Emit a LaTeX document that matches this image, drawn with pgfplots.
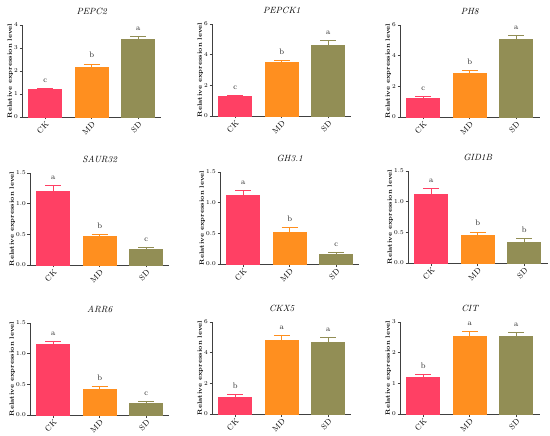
\documentclass[border=0pt]{standalone}
\usepackage{pgfplots}
\usepackage{pgfplotstable}
\pgfplotsset{compat=1.18}
\definecolor{ckc}{HTML}{FF4064}
\definecolor{mdc}{HTML}{FF8F1F}
\definecolor{sdc}{HTML}{928E55}
\definecolor{axc}{HTML}{404040}

\pgfplotstableread{
x y e lab
0 1.20 0.05 c
1 2.18 0.12 b
2 3.38 0.10 a
}\tPEPCtwo
\pgfplotstableread{
x y e lab
0 1.26 0.10 c
1 3.48 0.16 b
2 4.61 0.30 a
}\tPEPCKone
\pgfplotstableread{
x y e lab
0 1.24 0.08 c
1 2.88 0.15 b
2 5.06 0.27 a
}\tPHeight
\pgfplotstableread{
x y e lab
0 1.205 0.09 a
1 0.470 0.02 b
2 0.250 0.03 c
}\tSAUR
\pgfplotstableread{
x y e lab
0 1.12 0.08 a
1 0.525 0.075 b
2 0.166 0.025 c
}\tGH
\pgfplotstableread{
x y e lab
0 1.12 0.09 a
1 0.45 0.055 b
2 0.34 0.065 b
}\tGID
\pgfplotstableread{
x y e lab
0 1.16 0.04 a
1 0.425 0.04 b
2 0.196 0.025 c
}\tARR
\pgfplotstableread{
x y e lab
0 1.11 0.13 b
1 4.80 0.33 a
2 4.67 0.29 a
}\tCKX
\pgfplotstableread{
x y e lab
0 1.20 0.09 b
1 2.52 0.18 a
2 2.54 0.11 a
}\tCIT

\pgfplotsset{
  panelstyle/.style={
    anchor=south west,
    scale only axis, width=139.5pt, height=92pt,
    xmin=-0.5, xmax=2.5, ymin=0,
    axis lines=left, axis line style={-, color=axc, line width=0.6pt},
    tick align=outside, major tick length=2.5pt,
    tick style={color=axc, line width=0.6pt},
    xtick={0,1,2}, xticklabels={CK,MD,SD},
    x tick label style={rotate=45, anchor=north east, inner sep=1pt, font=\fontsize{8}{9}\selectfont},
    y tick label style={font=\fontsize{6.5}{7}\selectfont, inner sep=1.5pt},
    ylabel={Relative expression level},
    ylabel style={font=\bfseries\fontsize{6.3}{7}\selectfont, yshift=-4pt},
    title style={font=\itshape\fontsize{9}{10}\selectfont, yshift=1pt},
    clip=false,
  },
  barst/.style={ybar, bar shift=0pt, bar width=0.71, fill=#1, draw=#1, line width=0.6pt,
    error bars/y dir=plus, error bars/y explicit,
    error bars/error bar style={line width=1pt, color=#1},
    error bars/error mark options={rotate=90, line width=1pt, mark size=8pt, color=#1}},
}

\newcommand{\drawpanel}[7]{%
\begin{axis}[panelstyle, at={(#1pt,-#2pt)}, title={#3}, ymax=#4, ytick={#5}, #7]
\addplot[barst=ckc, restrict x to domain=-0.2:0.2] table[x=x, y=y, y error=e] {#6};
\addplot[barst=mdc, restrict x to domain=0.8:1.2] table[x=x, y=y, y error=e] {#6};
\addplot[barst=sdc, restrict x to domain=1.8:2.2] table[x=x, y=y, y error=e] {#6};
\addplot[draw=none, mark=none, nodes near coords, point meta=explicit symbolic,
  every node near coord/.append style={font=\fontsize{8}{9}\selectfont, anchor=south, yshift=2.5pt, color=black!85}]
  table[x=x, y expr=\thisrow{y}+\thisrow{e}, meta=lab] {#6};
\end{axis}}

\begin{document}
\begin{tikzpicture}
\useasboundingbox (0pt,0pt) rectangle (550pt,-436pt);
\drawpanel{22}{117}{PEPC2}{4}{0,1,2,3,4}{\tPEPCtwo}{}
\drawpanel{212}{116}{PEPCK1}{6}{0,2,4,6}{\tPEPCKone}{}
\drawpanel{400}{117}{PH8}{6}{0,2,4,6}{\tPHeight}{}
\drawpanel{30}{265}{SAUR32}{1.5}{0,0.5,1,1.5}{\tSAUR}{yticklabel style={/pgf/number format/.cd, fixed, fixed zerofill, precision=1}}
\drawpanel{220}{264}{GH3.1}{1.5}{0,0.5,1,1.5}{\tGH}{yticklabel style={/pgf/number format/.cd, fixed, fixed zerofill, precision=1}}
\drawpanel{408}{263}{GID1B}{1.5}{0,0.5,1,1.5}{\tGID}{yticklabel style={/pgf/number format/.cd, fixed, fixed zerofill, precision=1}}
\drawpanel{30}{415}{ARR6}{1.5}{0,0.5,1,1.5}{\tARR}{yticklabel style={/pgf/number format/.cd, fixed, fixed zerofill, precision=1}}
\drawpanel{212}{414}{CKX5}{6}{0,2,4,6}{\tCKX}{}
\drawpanel{400}{414}{CIT}{3}{0,1,2,3}{\tCIT}{}
\end{tikzpicture}
\end{document}
